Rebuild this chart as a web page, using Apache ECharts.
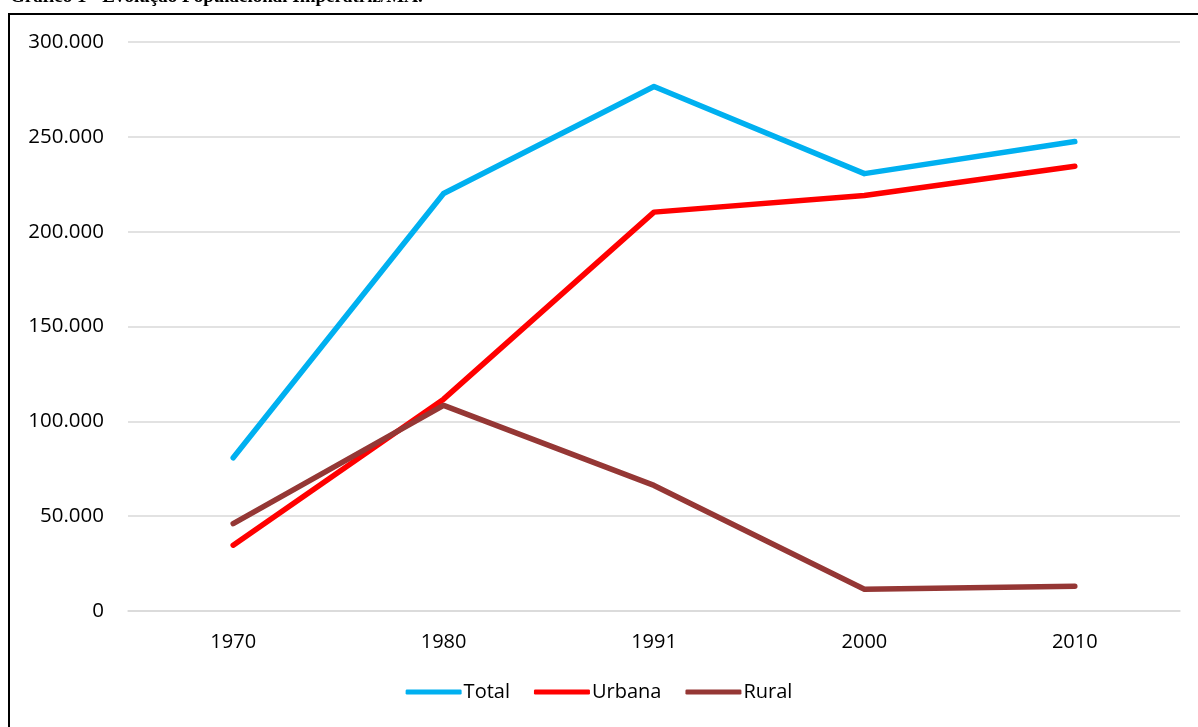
<!DOCTYPE html>
<html>
<head>
<meta charset="utf-8">
<title>Evolução Populacional Imperatriz/MA</title>
<script src="https://cdn.jsdelivr.net/npm/echarts@6/dist/echarts.min.js"></script>
<style>
  html, body { margin: 0; padding: 0; background: #fff; }
  #chart { width: 1198px; height: 727px; }
</style>
</head>
<body>
<div id="chart"></div>
<script>
// Census years
const years = ['1970', '1980', '1991', '2000', '2010'];

// Population by census year
const total = [80800, 220100, 276500, 230600, 247500];
const urbana = [34700, 111700, 210300, 219100, 234500];
const rural = [46100, 108400, 66200, 11500, 13000];

// Value axis ticks
const yMin = 0;
const yMax = 300000;
const yStep = 50000;

const titleText = 'Gráfico 1 - Evolução Populacional Imperatriz/MA.';

const labelFont = 'Open Sans, Noto Sans, sans-serif';

const chart = echarts.init(document.getElementById('chart'), null, { renderer: 'canvas' });

function fmt(v) {
  return v.toLocaleString('de-DE');
}

function lineSeries(name, data, color) {
  return {
    name: name,
    type: 'line',
    data: data,
    symbol: 'none',
    smooth: false,
    lineStyle: { color: color, width: 5.5, cap: 'round', join: 'round' },
    itemStyle: { color: color },
    emphasis: { disabled: true }
  };
}

chart.setOption({
  animation: false,
  backgroundColor: '#ffffff',
  graphic: [
    {
      type: 'text',
      left: 10,
      top: -12,
      style: {
        text: titleText,
        font: 'bold 19px "Liberation Serif", "DejaVu Serif", serif',
        fill: '#000'
      }
    },
    {
      type: 'rect',
      shape: { x: 9, y: 14, width: 1300, height: 900 },
      style: { fill: 'none', stroke: '#000', lineWidth: 2 },
      silent: true
    }
  ],
  grid: { left: 128, right: 18, top: 42, bottom: 116, containLabel: false },
  legend: {
    bottom: 20,
    left: 'center',
    icon: 'roundRect',
    itemWidth: 56,
    itemHeight: 5,
    itemGap: 24,
    textStyle: { fontFamily: labelFont, fontSize: 20, color: '#000', padding: [0, 0, 0, -3] },
    data: ['Total', 'Urbana', 'Rural']
  },
  xAxis: {
    type: 'category',
    data: years,
    boundaryGap: true,
    axisLine: { show: true, lineStyle: { color: '#d9d9d9', width: 1.5 } },
    axisTick: { show: false },
    axisLabel: { fontFamily: labelFont, fontSize: 20, color: '#000', margin: 21 },
    splitLine: { show: false }
  },
  yAxis: {
    type: 'value',
    min: yMin,
    max: yMax,
    interval: yStep,
    axisLine: { show: false },
    axisTick: { show: false },
    axisLabel: { fontFamily: labelFont, fontSize: 20.5, color: '#000', margin: 24, formatter: fmt },
    splitLine: { lineStyle: { color: '#d9d9d9', width: 1.5 } }
  },
  series: [
    lineSeries('Total', total, '#00b0f0'),
    lineSeries('Urbana', urbana, '#ff0000'),
    lineSeries('Rural', rural, '#953735')
  ]
});
</script>
</body>
</html>
